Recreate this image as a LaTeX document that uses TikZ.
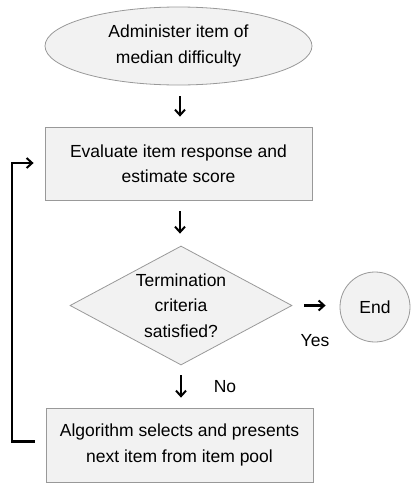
\documentclass[tikz,border=0pt]{standalone}
\usepackage{fontspec}
\setmainfont{Liberation Sans}
\usetikzlibrary{shapes.geometric,arrows.meta}
\definecolor{boxfill}{HTML}{F2F2F2}
\definecolor{boxline}{HTML}{999999}
\begin{document}
\begin{tikzpicture}[x=1pt,y=-1pt,
  shp/.style={draw=boxline,fill=boxfill,line width=0.8pt,align=center,inner sep=0pt,
    font=\fontsize{17.5}{25.5}\selectfont},
  tip/.style={-{Straight Barb[length=5.5pt,width=10pt,line width=2pt]}},
  arr/.style={tip,line width=2.2pt,black},
  lbl/.style={font=\fontsize{17.5}{21}\selectfont}]
\useasboundingbox (0,0) rectangle (418,493);
\node[shp,ellipse,minimum width=267,minimum height=78] (e) at (178.5,46) {Administer item of\\median difficulty};
\node[shp,rectangle,minimum width=267,minimum height=73] (b1) at (178.5,163.5) {Evaluate item response and\\estimate score};
\node[shp,diamond,aspect=1.86,minimum width=222,minimum height=119] (d) at (181,305.5) {Termination\\criteria\\satisfied?};
\node[shp,circle,minimum size=70] (end) at (375,307) {End};
\node[shp,rectangle,minimum width=267,minimum height=74] (b2) at (179.5,445) {Algorithm selects and presents\\next item from item pool};
\node[lbl] (yes) at (315,341) {Yes};
\node[lbl] (no) at (225,387) {No};
\coordinate (lb) at (12,441.5);
\coordinate (lt) at (12,163);
\coordinate (a1) at (180,96);
\coordinate (a2) at (180,211);
\draw[arr,shorten >=10pt] (a1) -- (a1 |- b1.north);
\draw[arr,shorten >=12pt] (a2) -- (a2 |- d.north);
\draw[arr,shorten <=12pt,shorten >=14pt] (d.east) -- (d.east -| end.west);
\draw[arr,shorten <=10pt,shorten >=10pt] (d.south) -- (d.south |- b2.north);
\draw[arr,shorten >=11pt] ([xshift=-11pt]b2.west |- lb) -- (lb) -- (lt) -- (b1.west |- lt);
\end{tikzpicture}
\end{document}
